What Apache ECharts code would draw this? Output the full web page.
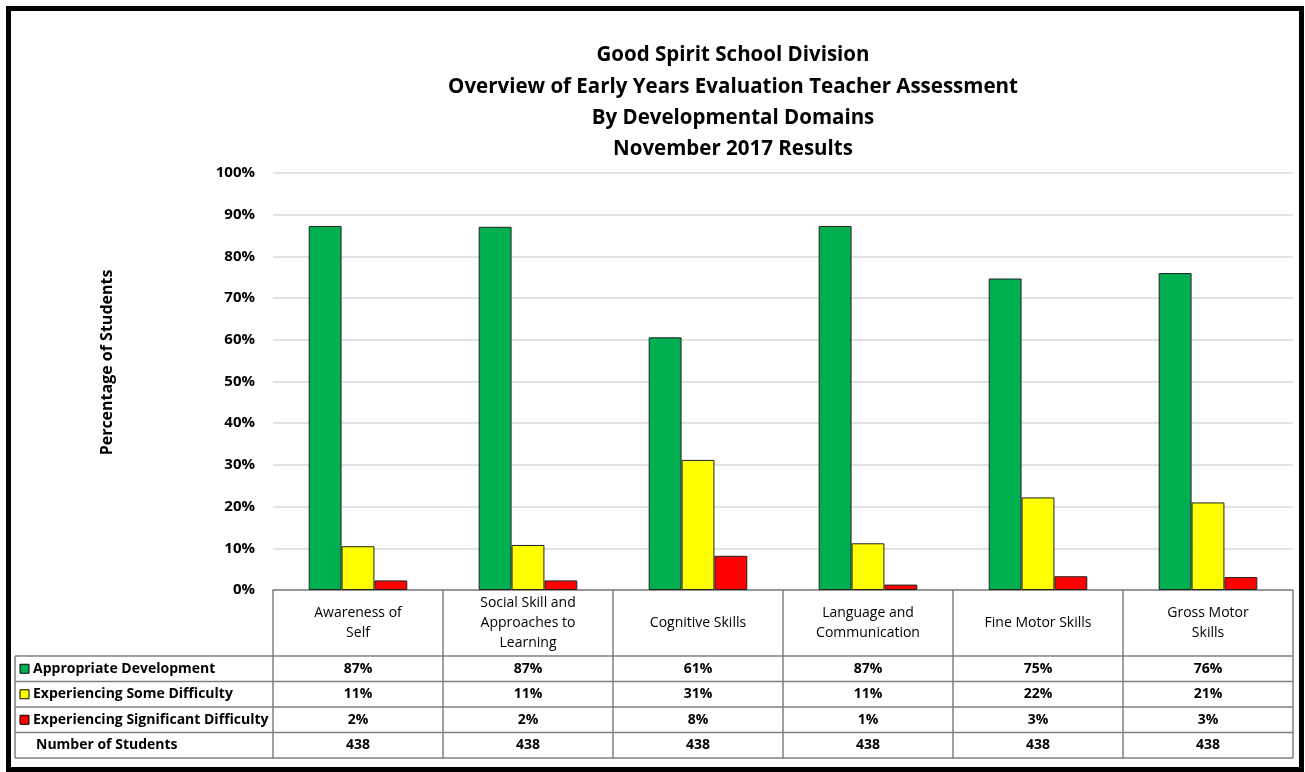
<!DOCTYPE html>
<html>
<head>
<meta charset="utf-8">
<script src="https://cdn.jsdelivr.net/npm/echarts@6/dist/echarts.min.js"></script>
<style>
html,body{margin:0;padding:0;background:#fff;}
#chart{width:1305px;height:772px;}
</style>
</head>
<body>
<div id="chart"></div>
<script>
// ---- data ----
const titleLines = ['Good Spirit School Division', 'Overview of Early Years Evaluation Teacher Assessment', 'By Developmental Domains', 'November 2017 Results'];
const categories = ['Awareness of\nSelf', 'Social Skill and\nApproaches to\nLearning', 'Cognitive Skills', 'Language and\nCommunication', 'Fine Motor Skills', 'Gross Motor\nSkills'];
const seriesNames = ['Appropriate Development', 'Experiencing Some Difficulty', 'Experiencing Significant Difficulty'];
const appropriate = [87.3, 87.1, 60.6, 87.3, 74.7, 76.0];
const someDifficulty = [10.5, 10.8, 31.2, 11.2, 22.2, 21.0];
const significantDifficulty = [2.3, 2.3, 8.2, 1.3, 3.3, 3.1];
const appropriateLabels = ['87%', '87%', '61%', '87%', '75%', '76%'];
const someLabels = ['11%', '11%', '31%', '11%', '22%', '21%'];
const significantLabels = ['2%', '2%', '8%', '1%', '3%', '3%'];
const studentCounts = ['438', '438', '438', '438', '438', '438'];
const yMin = 0, yMax = 100, yInterval = 10;

const colors = ['#00b050', '#ffff00', '#ff0000'];
const FONT = '"Open Sans", Lato, sans-serif';

const chart = echarts.init(document.getElementById('chart'));

const seriesData = [appropriate, someDifficulty, significantDifficulty];

chart.setOption({
  animation: false,
  backgroundColor: '#fff',
  title: {
    text: titleLines.join('\n'),
    left: 728, textAlign: 'center', top: 35,
    textStyle: {fontFamily: FONT, fontWeight: 'bold', fontSize: 20.5, lineHeight: 31.3, color: '#000'}
  },
  grid: {left: 273, right: 12, top: 173, bottom: 182, containLabel: false},
  xAxis: {
    type: 'category',
    data: categories,
    axisLine: {show: true, lineStyle: {color: '#7f7f7f', width: 1.5}},
    axisTick: {show: false},
    axisLabel: {
      interval: 0, margin: 33, verticalAlign: 'middle',
      fontFamily: FONT, fontSize: 14, lineHeight: 20, color: '#000'
    }
  },
  yAxis: {
    type: 'value', min: yMin, max: yMax, interval: yInterval,
    name: 'Percentage of Students', nameLocation: 'middle', nameRotate: 90, nameGap: 158,
    nameTextStyle: {fontFamily: FONT, fontWeight: 'bold', fontSize: 16, color: '#000', padding: [0, 0, 0, 38]},
    axisLine: {show: false}, axisTick: {show: false},
    axisLabel: {formatter: '{value}%', margin: 18, fontFamily: FONT, fontWeight: 'bold', fontSize: 15, color: '#000'},
    splitLine: {lineStyle: {color: '#d9d9d9', width: 1.5}}
  },
  series: seriesData.map((d, i) => ({
    type: 'bar', name: seriesNames[i], data: d,
    barGap: '0%', barCategoryGap: '42%',
    itemStyle: {color: colors[i], borderColor: '#222', borderWidth: 1}
  }))
});

// ---- data table drawn below the plot, aligned to the category axis ----
function buildTable() {
  const x0 = chart.convertToPixel({xAxisIndex: 0}, 0);
  const x1 = chart.convertToPixel({xAxisIndex: 0}, 1);
  const band = x1 - x0;
  const yAxisPix = chart.convertToPixel({yAxisIndex: 0}, 0);
  const leftEdge = x0 - band / 2;
  const rightEdge = leftEdge + band * categories.length;
  const tableLeft = 15;
  const headerBottom = yAxisPix + 66;
  const rowH = 25.5;
  const rows = [appropriateLabels, someLabels, significantLabels, studentCounts];
  const rowNames = seriesNames.concat(['Number of Students']);
  const tableBottom = headerBottom + rowH * rows.length;
  const lineStyle = {stroke: '#7f7f7f', lineWidth: 1.5};
  const g = [];
  for (let i = 0; i <= categories.length; i++) {
    const x = leftEdge + band * i;
    g.push({type: 'line', shape: {x1: x, y1: yAxisPix, x2: x, y2: tableBottom}, style: lineStyle, silent: true});
  }
  g.push({type: 'line', shape: {x1: tableLeft, y1: headerBottom, x2: tableLeft, y2: tableBottom}, style: lineStyle, silent: true});
  for (let r = 0; r <= rows.length; r++) {
    const y = headerBottom + rowH * r;
    g.push({type: 'line', shape: {x1: tableLeft, y1: y, x2: rightEdge, y2: y}, style: lineStyle, silent: true});
  }
  rows.forEach((row, r) => {
    const cy = headerBottom + rowH * r + rowH / 2;
    row.forEach((txt, c) => {
      const cx = chart.convertToPixel({xAxisIndex: 0}, c);
      g.push({type: 'text', x: cx, y: cy, silent: true,
        style: {text: txt, align: 'center', verticalAlign: 'middle', font: 'bold 14px ' + FONT, fill: '#000'}});
    });
    if (r < 3) {
      g.push({type: 'rect', shape: {x: 20, y: cy - 4.5, width: 9, height: 9}, silent: true,
        style: {fill: colors[r], stroke: '#000', lineWidth: 1}});
      g.push({type: 'text', x: 33, y: cy, silent: true,
        style: {text: rowNames[r], align: 'left', verticalAlign: 'middle', font: 'bold 14px ' + FONT, fill: '#000'}});
    } else {
      g.push({type: 'text', x: 36, y: cy, silent: true,
        style: {text: rowNames[r], align: 'left', verticalAlign: 'middle', font: 'bold 14px ' + FONT, fill: '#000'}});
    }
  });
  g.push({type: 'rect', shape: {x: 8.5, y: 8.5, width: 1293, height: 761}, silent: true,
    style: {fill: 'none', stroke: '#000', lineWidth: 5}});
  chart.setOption({graphic: g});
}
buildTable();
</script>
</body>
</html>
